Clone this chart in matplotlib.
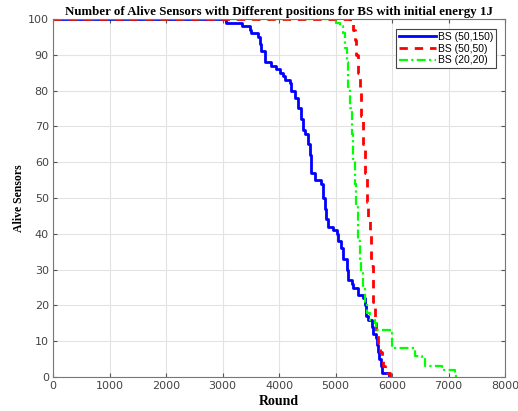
import numpy as np
import matplotlib.pyplot as plt

# data (step curves: round -> alive sensors)
r_bs1 = [0, 3055, 3340, 3480, 3510, 3625, 3660, 3690, 3745, 3865, 3955, 4010, 4070, 4100,
         4190, 4220, 4280, 4340, 4395, 4425, 4455, 4515, 4545, 4575, 4635, 4750, 4780, 4810,
         4840, 4870, 4960, 5020, 5045, 5105, 5135, 5195, 5220, 5285, 5310, 5400, 5490, 5520,
         5540, 5580, 5640, 5670, 5715, 5730, 5745, 5775, 5800, 5830, 5950]
a_bs1 = [100, 99, 98, 97, 96, 95, 93, 91, 88, 87, 86, 85, 84, 83,
         82, 80, 78, 75, 72, 69, 68, 65, 62, 57, 55, 54, 50, 47,
         44, 42, 41, 40, 38, 36, 33, 30, 27, 26, 25, 23, 22, 20,
         17, 16, 14, 12, 11, 9, 7, 5, 3, 1, 0]

r_bs2 = [0, 5255, 5310, 5340, 5370, 5400, 5430, 5460, 5490, 5520, 5550, 5580, 5610, 5635,
         5665, 5695, 5725, 5755, 5785, 5815, 5845, 5875, 5905, 5960]
a_bs2 = [100, 99, 97, 94, 90, 85, 80, 73, 65, 57, 49, 44, 40, 31,
         21, 15, 12, 9, 7, 5, 3, 2, 1, 0]

r_bs3 = [0, 5000, 5075, 5135, 5165, 5195, 5225, 5255, 5285, 5310, 5340, 5370, 5400, 5430,
         5460, 5490, 5520, 5550, 5610, 5700, 5715, 5995, 6410, 6525, 6585, 6880, 7115, 7140]
a_bs3 = [100, 99, 98, 96, 92, 88, 81, 75, 68, 61, 54, 48, 38, 33,
         29, 25, 21, 18, 16, 15, 13, 8, 6, 5, 3, 2, 1, 0]

labels = ["BS (50,150)", "BS (50,50)", "BS (20,20)"]

fig = plt.figure(figsize=(5.18, 4.11), dpi=100)
ax = fig.add_axes([53/518, 1 - 377/411, 452/518, 358/411])

ax.plot(r_bs1, a_bs1, drawstyle="steps-post", color="#0000FF", lw=2, label=labels[0])
ax.plot(r_bs2, a_bs2, drawstyle="steps-post", color="#FF0000", lw=2,
        linestyle=(0, (3, 2.5)), label=labels[1])
ax.plot(r_bs3, a_bs3, drawstyle="steps-post", color="#00FF00", lw=1.6,
        linestyle=(0, (4, 1.5, 1, 1.5)), label=labels[2])

ax.set_xlim(0, 8000)
ax.set_ylim(0, 100)
ax.set_xticks(np.arange(0, 8001, 1000))
ax.set_yticks(np.arange(0, 101, 10))
ax.grid(True, color="#e3e3e3", lw=0.8)
ax.set_axisbelow(True)
ax.tick_params(direction="in", length=3, top=True, right=True, labelsize=8,
               colors="#555555", labelcolor="#444444", pad=3)
for s in ax.spines.values():
    s.set_color("#777777")
    s.set_linewidth(0.8)

ax.set_title("Number of Alive Sensors with Different positions for BS with initial energy 1J",
             family="Liberation Serif", fontweight="bold", fontsize=9.3, pad=3)
ax.set_xlabel("Round", family="Liberation Serif", fontweight="bold", fontsize=10, labelpad=3)
ax.set_ylabel("Alive Sensors", family="Liberation Serif", fontweight="bold", fontsize=8.5,
              labelpad=2)

leg = ax.legend(loc="upper right", bbox_to_anchor=(0.985, 0.978), fontsize=7.5,
                fancybox=False, framealpha=1, edgecolor="#444444", handlelength=3.5,
                handletextpad=0.2, borderpad=0.3, labelspacing=0.15, borderaxespad=0.2,
                prop={"family": "Liberation Sans", "size": 7.5})
leg.get_frame().set_linewidth(0.8)

fig.savefig("out.png")
